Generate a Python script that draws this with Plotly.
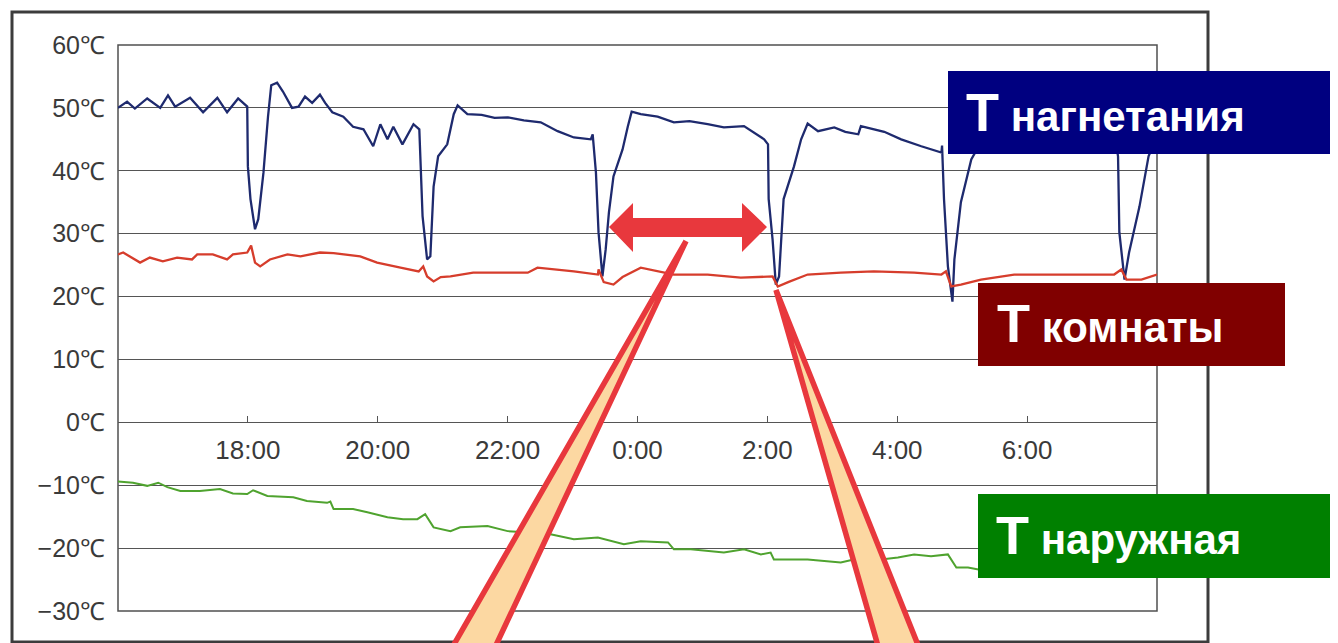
import plotly.graph_objects as go

# ---------------- data (hours since midnight of day 1; 24+ = next day) ----------------
blue_t = [16.00,16.14,16.26,16.45,16.65,16.77,16.88,17.11,17.31,17.53,17.68,17.85,17.99,18.00,18.04,18.11,18.16,18.24,18.31,18.36,
          18.45,18.54,18.68,18.78,18.88,18.99,19.11,19.19,19.30,19.47,19.62,19.78,19.93,20.04,20.15,20.24,20.38,20.55,20.64,20.69,
          20.76,20.81,20.86,20.93,21.07,21.17,21.23,21.38,21.60,21.80,22.00,22.25,22.51,22.77,23.02,23.28,23.31,23.36,23.40,23.46,
          23.51,23.56,23.63,23.77,23.85,23.91,24.05,24.31,24.56,24.80,25.08,25.33,25.64,25.79,25.95,26.01,26.02,26.08,26.13,26.18,
          26.25,26.41,26.52,26.62,26.78,27.03,27.20,27.40,27.44,27.80,28.06,28.37,28.68,28.69,28.72,28.78,28.85,28.88,28.98,29.14,
          29.37,29.60,30.37,31.14,31.36,31.40,31.42,31.50,31.57,31.73,31.87,32.00]
blue_v = [50.0,51.0,49.9,51.5,50.0,52.0,50.2,51.6,49.3,51.6,49.3,51.5,50.2,40.7,35.5,30.7,32.3,39.7,48.6,53.6,
          54.0,52.6,50.0,50.2,51.8,50.8,52.1,50.8,49.3,48.6,47.0,46.6,43.9,47.4,45.0,47.0,44.2,47.4,46.6,32.8,
          25.9,26.4,37.5,42.3,44.2,49.0,50.4,49.0,48.9,48.4,48.5,48.0,47.7,46.3,45.3,45.0,45.8,39.7,30.2,23.2,
          27.5,33.4,39.1,43.4,47.0,49.4,49.0,48.6,47.7,47.9,47.4,46.9,47.1,46.1,45.0,44.2,35.5,29.1,21.9,23.2,
          35.5,40.7,45.0,47.5,46.3,46.9,46.2,45.8,47.1,46.2,45.0,43.9,42.9,44.0,35.5,24.8,19.2,25.9,35.0,41.8,
          46.0,48.0,46.5,45.5,45.0,42.3,30.2,22.7,27.0,34.3,42.3,45.5]

red_t = [16.00,16.08,16.34,16.49,16.69,16.91,17.14,17.22,17.46,17.68,17.77,17.99,18.05,18.11,18.19,18.34,18.61,18.81,19.11,19.32,
         19.73,19.99,20.35,20.63,20.70,20.76,20.86,20.97,21.12,21.47,22.31,22.46,23.02,23.39,23.40,23.48,23.63,23.77,24.05,24.31,
         24.56,25.08,25.59,26.08,26.16,26.32,26.62,27.13,27.64,28.26,28.68,28.75,28.83,28.98,29.29,29.80,30.83,31.34,31.45,31.53,
         31.76,32.00]
red_v = [26.7,27.0,25.4,26.2,25.6,26.2,25.9,26.7,26.7,25.9,26.7,27.0,28.1,25.4,24.8,25.9,26.7,26.4,27.0,26.9,
         26.4,25.4,24.6,24.0,24.8,23.2,22.4,23.1,23.2,23.8,23.8,24.6,24.0,23.5,24.3,22.3,21.9,23.1,24.6,24.0,
         23.5,23.5,23.0,23.2,21.6,22.3,23.5,23.8,24.0,23.8,23.5,24.0,21.6,21.9,22.7,23.5,23.5,23.5,24.3,22.7,
         22.7,23.5]

green_t = [16.00,16.23,16.45,16.62,16.76,16.96,17.26,17.57,17.77,17.99,18.08,18.30,18.70,18.91,19.22,19.27,19.32,19.62,19.84,20.15,
           20.39,20.61,20.73,20.86,21.12,21.27,21.69,22.00,22.35,22.66,23.02,23.39,23.79,24.05,24.47,24.56,24.82,25.33,25.64,25.90,
           26.05,26.10,26.62,27.13,27.33,27.75,28.01,28.26,28.52,28.78,28.91,29.09,29.25,30.37,31.14,32.00]
green_v = [-9.4,-9.6,-10.1,-9.6,-10.3,-10.9,-10.9,-10.6,-11.3,-11.4,-10.8,-11.7,-11.9,-12.5,-12.8,-12.6,-13.8,-13.8,-14.3,-15.1,
           -15.4,-15.4,-14.6,-16.7,-17.3,-16.7,-16.5,-17.3,-17.5,-17.8,-18.6,-18.3,-19.4,-18.9,-19.1,-20.2,-20.2,-20.7,-20.2,-21.0,
           -20.7,-21.8,-21.8,-22.3,-21.8,-21.8,-21.5,-21.0,-21.3,-21.0,-23.1,-23.1,-23.4,-23.6,-23.8,-23.5]

x_tickvals = [18, 20, 22, 24, 26, 28, 30]
x_ticktext = ["18:00", "20:00", "22:00", "0:00", "2:00", "4:00", "6:00"]
y_tickvals = [-30, -20, -10, 0, 10, 20, 30, 40, 50, 60]
y_ticktext = ["−30℃", "−20℃", "−10℃", "0℃", "10℃", "20℃", "30℃", "40℃", "50℃", "60℃"]

label_discharge = "T нагнетания"
label_room = "T комнаты"
label_outdoor = "T наружная"

# ---------------- layout helpers (screen pixel -> paper) ----------------
OFF = 8                     # page body margin
W, H = 1338 - OFF, 643 - OFF
L, R, T, B = 118, 1157, 45, 611   # plot area in screen pixels
def px(x):
    return (x - L) / (R - L)
def py(y):
    return (B - y) / (B - T)

fig = go.Figure()
fig.add_trace(go.Scatter(x=blue_t, y=blue_v, mode="lines", line=dict(color="#1e2a6e", width=2.3), hoverinfo="skip"))
fig.add_trace(go.Scatter(x=red_t, y=red_v, mode="lines", line=dict(color="#d63d2c", width=2.3), hoverinfo="skip"))
fig.add_trace(go.Scatter(x=green_t, y=green_v, mode="lines", line=dict(color="#4fa32f", width=2.0), hoverinfo="skip"))

tickfont = dict(family="Liberation Sans, Arial, sans-serif", size=25, color="#3a3a3a")

fig.update_layout(
    width=W, height=H,
    margin=dict(l=L - OFF, r=(W + OFF) - R, t=T - OFF, b=(H + OFF) - B, pad=0),
    paper_bgcolor="white", plot_bgcolor="white",
    showlegend=False,
    xaxis=dict(range=[16, 32], anchor="free", position=1/3,
               tickvals=x_tickvals, ticktext=x_ticktext,
               ticks="inside", ticklen=6, tickwidth=1.2, tickcolor="#555",
               showgrid=False, zeroline=False, showline=False,
               ticklabelstandoff=10,
               tickfont=dict(family="Liberation Sans, Arial, sans-serif", size=26, color="#3a3a3a")),
    yaxis=dict(range=[-30, 60], tickvals=y_tickvals, ticktext=y_ticktext,
               showgrid=True, gridcolor="#555555", gridwidth=1.2,
               zeroline=False, showline=False, ticks="",
               ticklabelstandoff=12, tickfont=tickfont),
)

shapes = []
# plot box
shapes.append(dict(type="rect", xref="paper", yref="paper", x0=0, x1=1, y0=0, y1=1,
                   line=dict(color="#505050", width=1.5), layer="below"))
# outer frame
shapes.append(dict(type="rect", xref="paper", yref="paper", x0=px(12), x1=px(1208), y0=py(642), y1=py(12),
                   line=dict(color="#3c3c3c", width=3), layer="above"))
# cones
red = "#e8383d"
beige = "#fcd8a2"
shapes.append(dict(type="path", xref="paper", yref="paper",
                   path=f"M {px(686)},{py(241)} L {px(445)},{py(660)} L {px(489)},{py(660)} Z",
                   fillcolor=beige, line=dict(color=red, width=5.5), layer="above"))
shapes.append(dict(type="path", xref="paper", yref="paper",
                   path=f"M {px(776)},{py(290)} L {px(882)},{py(660)} L {px(924)},{py(660)} Z",
                   fillcolor=beige, line=dict(color=red, width=5.5), layer="above"))
# double arrow
pts = [(609, 227), (633, 203), (633, 218), (742, 218), (742, 203), (767, 227),
       (742, 252), (742, 237), (633, 237), (633, 252)]
path = "M " + " L ".join(f"{px(a)},{py(b)}" for a, b in pts) + " Z"
shapes.append(dict(type="path", xref="paper", yref="paper", path=path,
                   fillcolor=red, line=dict(width=0), layer="above"))
# label boxes
boxes = [((948, 71, 1340, 154), "#000080"),
         ((978, 283, 1285, 366), "#800000"),
         ((978, 494, 1340, 578), "#008000")]
for (x0, y0, x1, y1), c in boxes:
    shapes.append(dict(type="rect", xref="paper", yref="paper", x0=px(x0), x1=px(x1), y0=py(y1), y1=py(y0),
                       fillcolor=c, line=dict(width=0), layer="above"))
fig.update_layout(shapes=shapes)

def label(text, x, yc):
    first, rest = text.split(" ", 1)
    return dict(xref="paper", yref="paper", x=px(x), y=py(yc), xanchor="left", yanchor="middle",
                showarrow=False,
                text=f"<b><span style='font-size:54px'>{first}</span> {rest}</b>",
                font=dict(family="Liberation Sans, Arial, sans-serif", size=42, color="white"))

fig.update_layout(annotations=[
    label(label_discharge, 964, 112),
    label(label_room, 995, 323),
    label(label_outdoor, 994, 535),
])

fig.write_html("out.html")
